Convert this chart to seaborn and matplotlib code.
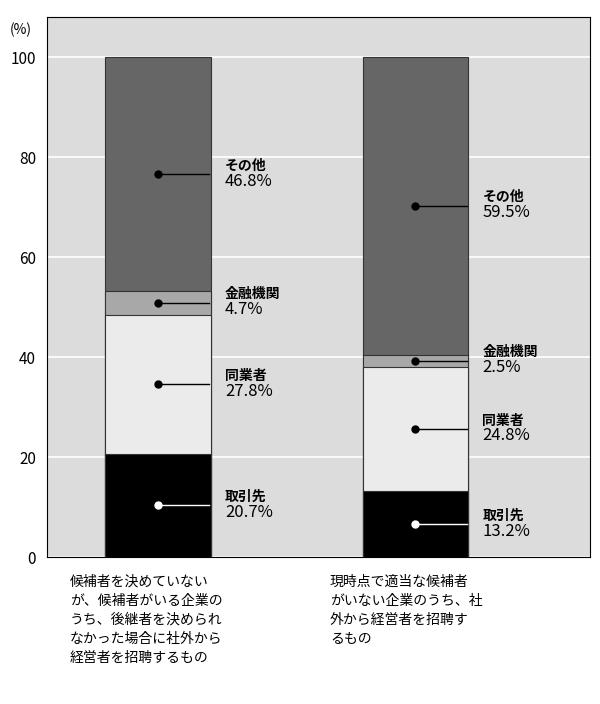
import matplotlib
matplotlib.use("Agg")
import matplotlib.pyplot as plt
import seaborn as sns
import numpy as np
import pandas as pd

plt.rcParams["font.family"] = ["Noto Sans CJK JP", "DejaVu Sans"]

categories = ["候補者を決めていない\nが、候補者がいる企業の\nうち、後継者を決められ\nなかった場合に社外から\n経営者を招聘するもの",
              "現時点で適当な候補者\nがいない企業のうち、社\n外から経営者を招聘す\nるもの"]
segments = ["取引先", "同業者", "金融機関", "その他"]
values_1 = [20.7, 27.8, 4.7, 46.8]
values_2 = [13.2, 24.8, 2.5, 59.5]
colors = ["#000000", "#ebebeb", "#a8a8a8", "#666666"]

fig = plt.figure(figsize=(6, 7.04), dpi=100)
ax = fig.add_axes([47/600, (704-557)/704, 543/600, (557-17)/704])
ax.set_facecolor("#dcdcdc")

vals = np.array([values_1, values_2])
cum = np.cumsum(vals, axis=1)
xs = [0, 1]
for k in range(len(segments) - 1, -1, -1):
    df = pd.DataFrame({"x": xs, "y": cum[:, k]})
    sns.barplot(data=df, x="x", y="y", color=colors[k], width=0.41,
                saturation=1, ax=ax, edgecolor="#333333", linewidth=0.8, zorder=2)

for i in range(2):
    bottom = 0
    for k, seg in enumerate(segments):
        v = vals[i, k]
        mid = bottom + v / 2
        dc = "white" if k == 0 else "black"
        ax.plot([i, i + 0.2], [mid, mid], color=dc, lw=1, zorder=3)
        ax.plot(i, mid, "o", color=dc, ms=5, zorder=4)
        ax.text(i + 0.26, mid + 0.3, seg, fontsize=10, fontweight="bold", va="bottom", ha="left", zorder=5)
        ax.text(i + 0.26, mid + 0.3, f"{v}%", fontsize=12, va="top", ha="left", zorder=5)
        bottom += v

ax.set_xlim(-0.431, 1.678)
ax.set_ylim(0, 108)
ax.set_yticks([0, 20, 40, 60, 80, 100])
ax.yaxis.grid(True, color="white", lw=1.2)
ax.set_axisbelow(True)
ax.set_xticks([])
ax.set_xlabel("")
ax.set_ylabel("")
for s in ax.spines.values():
    s.set_visible(True)
    s.set_color("black")
    s.set_linewidth(0.8)
ax.tick_params(axis="y", length=0, labelsize=11, pad=8)

fig.text(10/600, 1 - 30/704, "(%)", fontsize=10, va="center")
fig.text(70/600, 1 - 575/704, categories[0], fontsize=10, va="top", ha="left", linespacing=1.45)
fig.text(330/600, 1 - 575/704, categories[1], fontsize=10, va="top", ha="left", linespacing=1.45)

fig.savefig("out.png", dpi=100)
